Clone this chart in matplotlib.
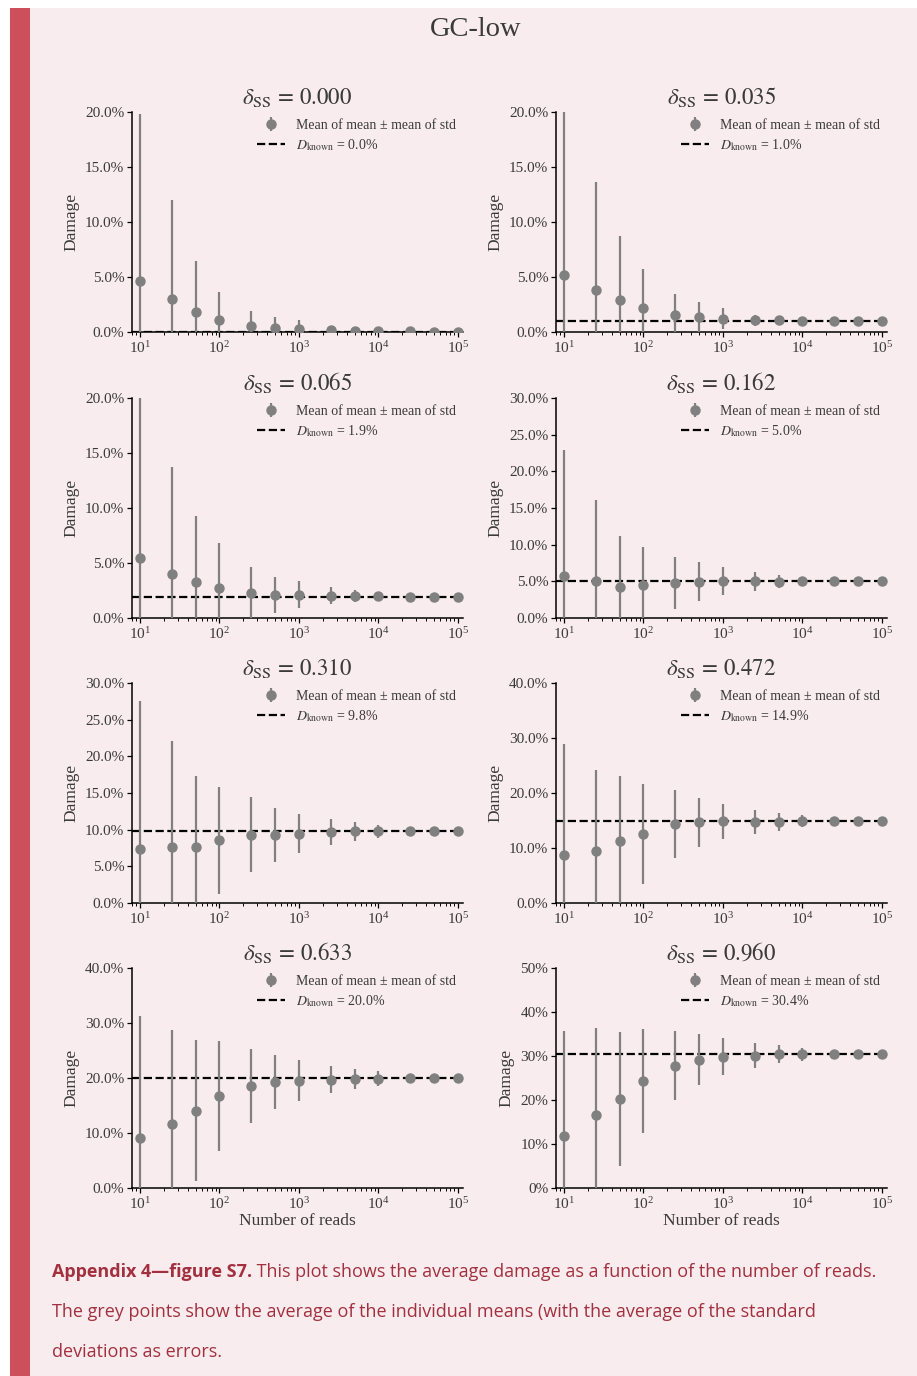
import matplotlib
matplotlib.use("Agg")
import matplotlib.pyplot as plt
from matplotlib.patches import Rectangle
from matplotlib.ticker import PercentFormatter, MultipleLocator, LogLocator, NullFormatter

# ---------------- data ----------------
n_reads = [10, 25, 50, 100, 250, 500, 1000, 2500, 5000, 10000, 25000, 50000, 100000]

delta_ss = [0.000, 0.035, 0.065, 0.162, 0.310, 0.472, 0.633, 0.960]
d_known = [0.0, 1.0, 1.9, 5.0, 9.8, 14.9, 20.0, 30.4]          # percent
y_max = [20, 20, 20, 30, 30, 40, 40, 50]                       # percent
y_step = [5, 5, 5, 5, 5, 10, 10, 10]
y_decimals = [1, 1, 1, 1, 1, 1, 1, 0]

mean_0 = [4.65, 3.0, 1.83, 1.07, 0.55, 0.32, 0.25, 0.17, 0.11, 0.07, 0.05, 0.04, 0.03]
std_0 = [15.2, 8.97, 4.64, 2.6, 1.36, 1.0, 0.82, 0.35, 0.2, 0.12, 0.08, 0.05, 0.04]

mean_1 = [5.17, 3.84, 2.93, 2.18, 1.57, 1.36, 1.21, 1.06, 1.06, 1.03, 1.02, 1.01, 1.0]
std_1 = [15.5, 9.8, 5.8, 3.56, 1.93, 1.36, 0.97, 0.5, 0.3, 0.2, 0.12, 0.08, 0.06]

mean_2 = [5.43, 3.98, 3.23, 2.71, 2.23, 2.11, 2.11, 2.02, 2.02, 1.96, 1.93, 1.92, 1.91]
std_2 = [15.5, 9.78, 6.03, 4.1, 2.39, 1.66, 1.24, 0.78, 0.55, 0.35, 0.2, 0.14, 0.1]

mean_3 = [5.77, 5.0, 4.28, 4.51, 4.74, 4.96, 5.0, 4.98, 4.97, 4.98, 4.98, 4.98, 4.98]
std_3 = [17.1, 11.15, 6.9, 5.2, 3.52, 2.62, 1.9, 1.3, 0.9, 0.55, 0.35, 0.25, 0.18]

mean_4 = [7.40, 7.63, 7.63, 8.53, 9.31, 9.31, 9.44, 9.67, 9.76, 9.76, 9.78, 9.78, 9.78]
std_4 = [20.1, 14.4, 9.75, 7.35, 5.12, 3.67, 2.63, 1.73, 1.27, 0.85, 0.5, 0.35, 0.25]

mean_5 = [8.66, 9.39, 11.33, 12.6, 14.36, 14.67, 14.85, 14.73, 14.73, 14.85, 14.85, 14.85, 14.85]
std_5 = [20.2, 14.8, 11.8, 9.1, 6.1, 4.48, 3.2, 2.1, 1.6, 1.1, 0.6, 0.45, 0.3]

mean_6 = [9.15, 11.64, 14.06, 16.73, 18.55, 19.27, 19.5, 19.7, 19.8, 19.9, 19.95, 19.97, 19.97]
std_6 = [22.1, 17.1, 12.8, 10.0, 6.8, 4.97, 3.7, 2.4, 1.75, 1.3, 0.8, 0.55, 0.4]

mean_7 = [11.8, 16.7, 20.3, 24.3, 27.8, 29.1, 29.8, 30.1, 30.4, 30.4, 30.4, 30.35, 30.35]
std_7 = [23.9, 19.6, 15.2, 11.8, 7.9, 5.8, 4.2, 2.8, 2.0, 1.5, 0.9, 0.65, 0.45]

means = [mean_0, mean_1, mean_2, mean_3, mean_4, mean_5, mean_6, mean_7]
stds = [std_0, std_1, std_2, std_3, std_4, std_5, std_6, std_7]

suptitle = "GC-low"
caption_bold = "Appendix 4\u2014figure S7."
caption_rest = " This plot shows the average damage as a function of the number of reads."
caption_line2 = "The grey points show the average of the individual means (with the average of the standard"
caption_line3 = "deviations as errors."

# ---------------- style ----------------
W, H = 917, 1376
PINK = "#f8ecee"
RED_BAR = "#cd4f5b"
CAP_COL = "#a3303f"
TXT = "#3a3a3a"
CAP_FONT = ["Open Sans", "Noto Sans", "DejaVu Sans"]

plt.rcParams["font.family"] = ["Liberation Serif", "DejaVu Serif"]
plt.rcParams["mathtext.fontset"] = "stix"

fig = plt.figure(figsize=(W / 100, H / 100), dpi=100, facecolor="white")
fig.patches.append(Rectangle((30 / W, 0), 1 - 30 / W, (H - 8) / H, transform=fig.transFigure,
                             facecolor=PINK, edgecolor="none", zorder=-10))
fig.patches.append(Rectangle((10 / W, 0), 20 / W, (H - 8) / H, transform=fig.transFigure,
                             facecolor=RED_BAR, edgecolor="none", zorder=-9))

fig.text(476 / W, 1 - 29 / H, suptitle, ha="center", va="center", fontsize=20.5, color=TXT)

col_left = [132, 556]
col_w = 331
row_bottom = [332, 618, 903, 1188]
row_h = 220

for i in range(8):
    r, c = divmod(i, 2)
    ax = fig.add_axes([col_left[c] / W, (H - row_bottom[r]) / H, col_w / W, row_h / H])
    ax.set_facecolor("none")
    eb = ax.errorbar(n_reads, means[i], yerr=stds[i], fmt="o", color="gray", markersize=6.5,
                     elinewidth=1.6, capsize=0, zorder=3)
    ln = ax.axhline(d_known[i], color="black", ls="--", lw=1.6, zorder=2)
    ax.set_xscale("log")
    ax.set_xlim(10 ** 0.9, 10 ** 5.063)
    ax.set_ylim(0, y_max[i])
    ax.yaxis.set_major_locator(MultipleLocator(y_step[i]))
    ax.yaxis.set_major_formatter(PercentFormatter(xmax=100, decimals=y_decimals[i]))
    ax.xaxis.set_major_locator(LogLocator(base=10, numticks=10))
    ax.xaxis.set_minor_locator(LogLocator(base=10, subs=range(2, 10), numticks=20))
    ax.xaxis.set_minor_formatter(NullFormatter())
    for s in ["top", "right"]:
        ax.spines[s].set_visible(False)
    for s in ["left", "bottom"]:
        ax.spines[s].set_linewidth(1.1)
        ax.spines[s].set_color("black")
    ax.tick_params(axis="both", which="major", labelsize=11, colors="black",
                   labelcolor=TXT, length=3.5, width=0.9, pad=2)
    ax.tick_params(axis="x", which="minor", length=2, width=0.7)
    ax.set_title(r"$\delta_{\mathrm{SS}}\,=\,%.3f$" % delta_ss[i], fontsize=16.5, color=TXT, pad=6)
    ax.set_ylabel("Damage", fontsize=12.5, color=TXT, labelpad=4)
    if r == 3:
        ax.set_xlabel("Number of reads", fontsize=12.5, color=TXT, labelpad=1)
    ax.legend([eb, ln],
              ["Mean of mean \u00b1 mean of std",
               r"$D_{\mathrm{known}}$ = %.1f%%" % d_known[i]],
              loc="upper right", bbox_to_anchor=(1.0, 1.0), frameon=False,
              fontsize=10, handlelength=2.0, labelcolor=TXT, borderaxespad=0.1,
              labelspacing=0.35, handletextpad=0.8)

# ---------------- caption ----------------
renderer = fig.canvas.get_renderer()
target_w = 878 - 52
fs = 12
t1 = fig.text(52 / W, 1 - 1272 / H, caption_bold, fontsize=fs, fontweight="bold",
              color=CAP_COL, va="center", ha="left", family=CAP_FONT)
t2 = fig.text(0, 1 - 1272 / H, caption_rest, fontsize=fs, color=CAP_COL, va="center",
              ha="left", family=CAP_FONT)
w1 = t1.get_window_extent(renderer).width
w2 = t2.get_window_extent(renderer).width
scale = target_w / (w1 + w2)
fs = fs * scale
t1.set_fontsize(fs)
t2.set_fontsize(fs)
w1 = t1.get_window_extent(renderer).width
t2.set_x((52 + w1) / W)
fig.text(52 / W, 1 - 1312 / H, caption_line2, fontsize=fs, color=CAP_COL, va="center",
         ha="left", family=CAP_FONT)
fig.text(52 / W, 1 - 1352 / H, caption_line3, fontsize=fs, color=CAP_COL, va="center",
         ha="left", family=CAP_FONT)

fig.savefig("out.png", dpi=100, facecolor="white")
